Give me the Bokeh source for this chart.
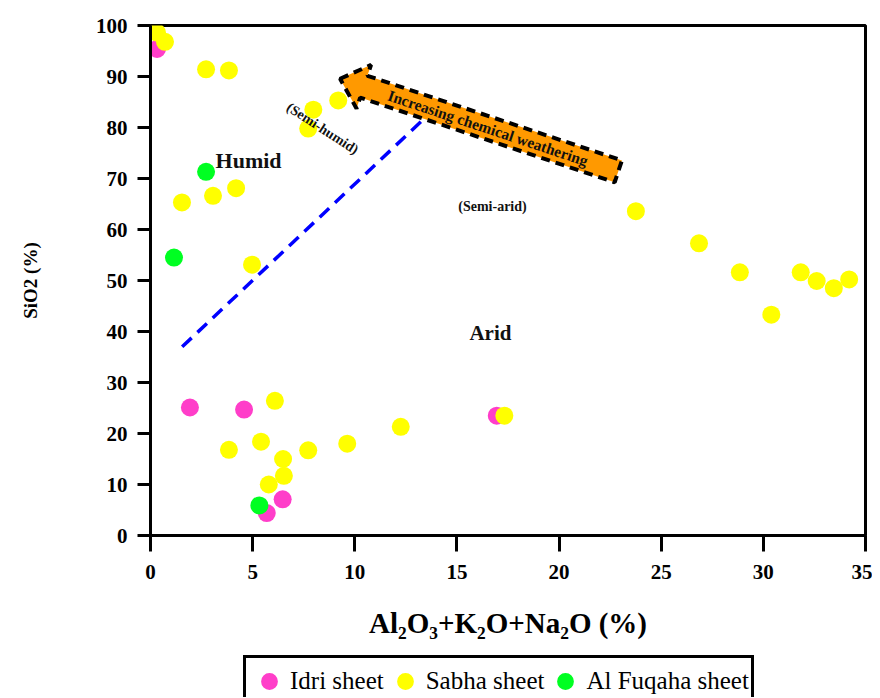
import math
from bokeh.plotting import figure
from bokeh.layouts import column
from bokeh.models import Legend, LegendItem, Label, Range1d, FixedTicker
from bokeh.embed import file_html
from bokeh.resources import INLINE

# ---------------- data ----------------
idri_x = [0.32, 1.93, 4.58, 5.69, 6.47, 16.95]
idri_y = [95.4, 25.1, 24.7, 4.4, 7.1, 23.5]

sabha_x = [0.32, 0.71, 2.72, 3.84, 1.54, 3.06, 4.19, 4.97, 7.72, 7.97, 9.19,
           6.09, 3.84, 5.41, 6.49, 6.53, 5.79, 7.72, 9.63, 12.25, 17.32,
           23.76, 26.85, 28.85, 30.39, 31.83, 32.61, 33.45, 34.2]
sabha_y = [98.6, 96.8, 91.4, 91.2, 65.3, 66.6, 68.1, 53.1, 79.8, 83.5, 85.3,
           26.4, 16.8, 18.4, 15.0, 11.7, 10.0, 16.7, 18.0, 21.3, 23.5,
           63.6, 57.3, 51.6, 43.3, 51.6, 49.9, 48.5, 50.2]

fuqaha_x = [2.72, 1.15, 5.33]
fuqaha_y = [71.3, 54.5, 5.9]

x_ticks = [0, 5, 10, 15, 20, 25, 30, 35]
y_ticks = [0, 10, 20, 30, 40, 50, 60, 70, 80, 90, 100]

series_names = ["Idri sheet", "Sabha sheet", "Al Fuqaha sheet"]
series_colors = ["#FF3EC9", "#FFFF00", "#00FF22"]

# boundary line (humid / arid) and arrow annotation, in data units
boundary_x = [1.55, 13.6]
boundary_y = [37.0, 82.5]
arrow_tip = (9.28, 89.55)
arrow_tail = (22.9, 71.4)

X_MIN, X_MAX = 0, 35
Y_MIN, Y_MAX = 0, 100
FRAME_W, FRAME_H = 715, 510

SERIF = "Liberation Serif"

p = figure(output_backend="svg", toolbar_location=None,
           x_range=Range1d(X_MIN, X_MAX), y_range=Range1d(Y_MIN, Y_MAX),
           min_border_left=150, min_border_top=25, min_border_right=7,
           min_border_bottom=100)
p.frame_width = FRAME_W
p.frame_height = FRAME_H

p.xgrid.visible = False
p.ygrid.visible = False
p.outline_line_color = "black"
p.outline_line_width = 3
p.background_fill_color = "white"
p.border_fill_color = "white"

for ax in (p.xaxis[0], p.yaxis[0]):
    ax.axis_line_width = 3
    ax.axis_line_color = "black"
    ax.major_tick_line_width = 3
    ax.major_tick_line_color = "black"
    ax.major_tick_in = 0
    ax.minor_tick_line_color = None
    ax.major_label_text_font = SERIF
    ax.major_label_text_font_style = "bold"
    ax.major_label_text_font_size = "21px"
    ax.major_label_text_color = "black"

p.xaxis.ticker = FixedTicker(ticks=x_ticks)
p.yaxis.ticker = FixedTicker(ticks=y_ticks)
p.xaxis.major_tick_out = 16
p.yaxis.major_tick_out = 13
p.xaxis.major_label_standoff = 13
p.yaxis.major_label_standoff = 10

p.xaxis.axis_label = "Al\u2082O\u2083+K\u2082O+Na\u2082O (%)"
p.xaxis.axis_label_text_font = SERIF
p.xaxis.axis_label_text_font_style = "bold"
p.xaxis.axis_label_text_font_size = "29px"
p.xaxis.axis_label_text_color = "black"
p.xaxis.axis_label_standoff = 25

p.yaxis.axis_label = "SiO2 (%)"
p.yaxis.axis_label_text_font = SERIF
p.yaxis.axis_label_text_font_style = "bold"
p.yaxis.axis_label_text_font_size = "19px"
p.yaxis.axis_label_text_color = "black"
p.yaxis.axis_label_standoff = 52

# boundary dashed line
p.line(boundary_x, boundary_y, line_color="#0000FF", line_width=3.5,
       line_dash="13 8")

# arrow polygon built from tip/tail in screen proportions
sx = FRAME_W / (X_MAX - X_MIN)
sy = FRAME_H / (Y_MAX - Y_MIN)
tx, ty = arrow_tip[0] * sx, -arrow_tip[1] * sy
ex, ey = arrow_tail[0] * sx, -arrow_tail[1] * sy
L = math.hypot(ex - tx, ey - ty)
ux, uy = (ex - tx) / L, (ey - ty) / L
nx, ny = -uy, ux
head_len, head_half, shaft_half = 25, 23, 11.5
local = [(0, 0), (head_len, -head_half), (head_len, -shaft_half),
         (L, -shaft_half), (L, shaft_half), (head_len, shaft_half),
         (head_len, head_half)]
ax_pts = [(tx + s * ux + t * nx) / sx for s, t in local]
ay_pts = [-(ty + s * uy + t * ny) / sy for s, t in local]
p.patch(ax_pts, ay_pts, fill_color="#FF9900", line_color="black",
        line_width=4, line_dash="9 6")

# scatter series
series_x = [idri_x, sabha_x, fuqaha_x]
series_y = [idri_y, sabha_y, fuqaha_y]
for xs, ys, c in zip(series_x, series_y, series_colors):
    p.scatter(xs, ys, size=18, fill_color=c, line_color=None)

# text annotations
arrow_angle = -math.atan2(ey - ty, ex - tx)
labels = [
    dict(x=4.8, y=73.5, text="Humid", size="22px", angle=0),
    dict(x=16.64, y=39.8, text="Arid", size="21px", angle=0),
    dict(x=16.74, y=64.5, text="(Semi-arid)", size="14px", angle=0),
    dict(x=8.42, y=79.8, text="(Semi-humid)", size="14px", angle=-0.576),
    dict(x=16.52, y=79.9, text="Increasing chemical weathering", size="15.5px",
         angle=arrow_angle),
]
for d in labels:
    p.add_layout(Label(x=d["x"], y=d["y"], text=d["text"], angle=d["angle"],
                       text_font=SERIF, text_font_style="bold",
                       text_font_size=d["size"], text_color="#111111",
                       text_align="center", text_baseline="middle"))

# ---------------- legend strip ----------------
# key renderers carry the same series, kept out of this strip's view
lf = figure(width=872, height=56, output_backend="svg", toolbar_location=None,
            x_range=Range1d(100, 101), y_range=Range1d(100, 101), min_border=0)
lf.axis.visible = False
lf.xgrid.visible = False
lf.ygrid.visible = False
lf.outline_line_color = None
lf.border_fill_color = "white"
keys = [lf.scatter(xs, ys, size=18, fill_color=c, line_color=None)
        for xs, ys, c in zip(series_x, series_y, series_colors)]
legend = Legend(items=[LegendItem(label=n, renderers=[r])
                       for n, r in zip(series_names, keys)],
                orientation="horizontal", location=(93, -10))
legend.label_text_font = SERIF
legend.label_text_font_size = "25px"
legend.label_text_color = "black"
legend.glyph_width = 42
legend.glyph_height = 42
legend.label_standoff = 0
legend.spacing = 0
legend.padding = 2
legend.margin = 0
legend.border_line_color = "black"
legend.border_line_alpha = 1
legend.border_line_width = 3
legend.background_fill_alpha = 1
lf.add_layout(legend, "center")

layout = column(p, lf, spacing=0)
open("out.html", "w").write(file_html(layout, INLINE))
